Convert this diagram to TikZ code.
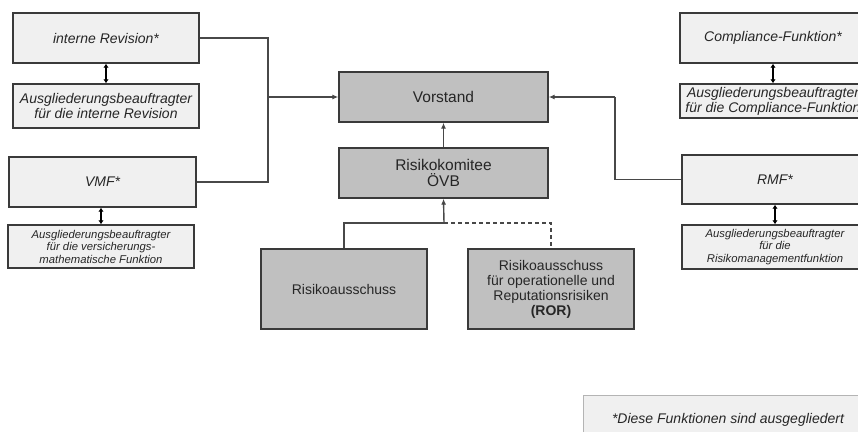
\documentclass[tikz,border=0pt]{standalone}
\usepackage{fontspec}
\setmainfont{Liberation Sans}
\usetikzlibrary{arrows.meta}
\definecolor{lightbox}{HTML}{F0F0F0}
\definecolor{darkbox}{HTML}{C0C0C0}
\definecolor{edgec}{HTML}{3A3A3A}
\definecolor{txt}{HTML}{262626}
\definecolor{conn}{HTML}{484848}
\definecolor{notebd}{HTML}{B4B4B4}
\begin{document}
\begin{tikzpicture}[x=1pt,y=-1pt,
  box/.style={draw=edgec, line width=1.4pt, inner sep=0pt, align=center, text=txt},
  light/.style={box, fill=lightbox, font=\itshape\fontsize{14}{15}\selectfont},
  small/.style={box, fill=lightbox, font=\itshape\fontsize{11.3}{12.5}\selectfont},
  dark/.style={box, fill=darkbox, font=\fontsize{15.5}{16.5}\selectfont},
  darkb/.style={box, fill=darkbox, font=\fontsize{14}{15}\selectfont},
  link/.style={draw=conn, line width=1.4pt},
  arr/.style={link, -{Latex[length=6pt,width=5pt,fill=black]}},
  dbl/.style={draw=black, line width=1.5pt, {Latex[length=4pt,width=5.5pt]}-{Latex[length=4pt,width=5.5pt]}},
]
\path[use as bounding box] (0,0) rectangle (858,431);
\clip (0,0) rectangle (858,431);

% left column
\node[light, minimum width=186pt, minimum height=50pt] (ir) at (106,38) {interne Revision*};
\node[light, minimum width=186pt, minimum height=44pt] (air) at (106,106) {Ausgliederungsbeauftragter\\für die interne Revision};
\node[light, minimum width=187pt, minimum height=50pt] (vmf) at (102.5,182) {VMF*};
\node[small, minimum width=186pt, minimum height=43pt] (avmf) at (101,246.5) {Ausgliederungsbeauftragter\\für die versicherungs-\\mathematische Funktion};

% centre
\node[dark, minimum width=209pt, minimum height=50pt] (vor) at (443.5,97) {Vorstand};
\node[dark, minimum width=209pt, minimum height=50pt] (rk) at (443.5,173) {Risikokomitee\\ÖVB};
\node[darkb, minimum width=166pt, minimum height=80pt] (ra) at (344,289) {Risikoausschuss};
\node[darkb, minimum width=166pt, minimum height=80pt] (ror) at (551,289) {Risikoausschuss\\für operationelle und\\Reputationsrisiken\\\textbf{(ROR)}};

% right column
\node[light, minimum width=186pt, minimum height=50pt] (cf) at (773,38) {Compliance-Funktion*};
\node[light, minimum width=186pt, minimum height=34pt] (acf) at (773,101) {Ausgliederungsbeauftragter\\für die Compliance-Funktion};
\node[light, minimum width=186pt, minimum height=49pt] (rmf) at (775,179.5) {RMF*};
\node[small, minimum width=186pt, minimum height=44pt] (armf) at (775,247) {Ausgliederungsbeauftragter\\für die\\Risikomanagementfunktion};

% footnote
\node[draw=notebd, line width=1pt, fill=lightbox, minimum width=290pt, minimum height=50pt, inner sep=0pt, text=txt, font=\itshape\fontsize{14}{15}\selectfont] (note) at (728,420) {*Diese Funktionen sind ausgegliedert};

% junctions
\coordinate (jl) at (268,97);
\coordinate (jr) at (615,97);
\coordinate (jb) at (444,223);

% connectors
\draw[link] (ir.east) -| (jl) |- (vmf.east);
\draw[arr] (jl) -- (vor.west);
\draw[link] (rmf.west) -| (jr);
\draw[arr] (jr) -- (vor.east);
\draw[arr] (rk.north) -- (vor.south);
\draw[link] (ra.north) |- (jb);
\draw[arr] (jb) -- (rk.south);
\draw[link, dash pattern=on 4pt off 3pt] (jb) -| (ror.north);

% double arrows
\draw[dbl] (ir.south) -- (air.north);
\draw[dbl] (vmf.south -| avmf.north) -- (avmf.north);
\draw[dbl] (cf.south) -- (acf.north);
\draw[dbl] (rmf.south) -- (armf.north);
\end{tikzpicture}
\end{document}
